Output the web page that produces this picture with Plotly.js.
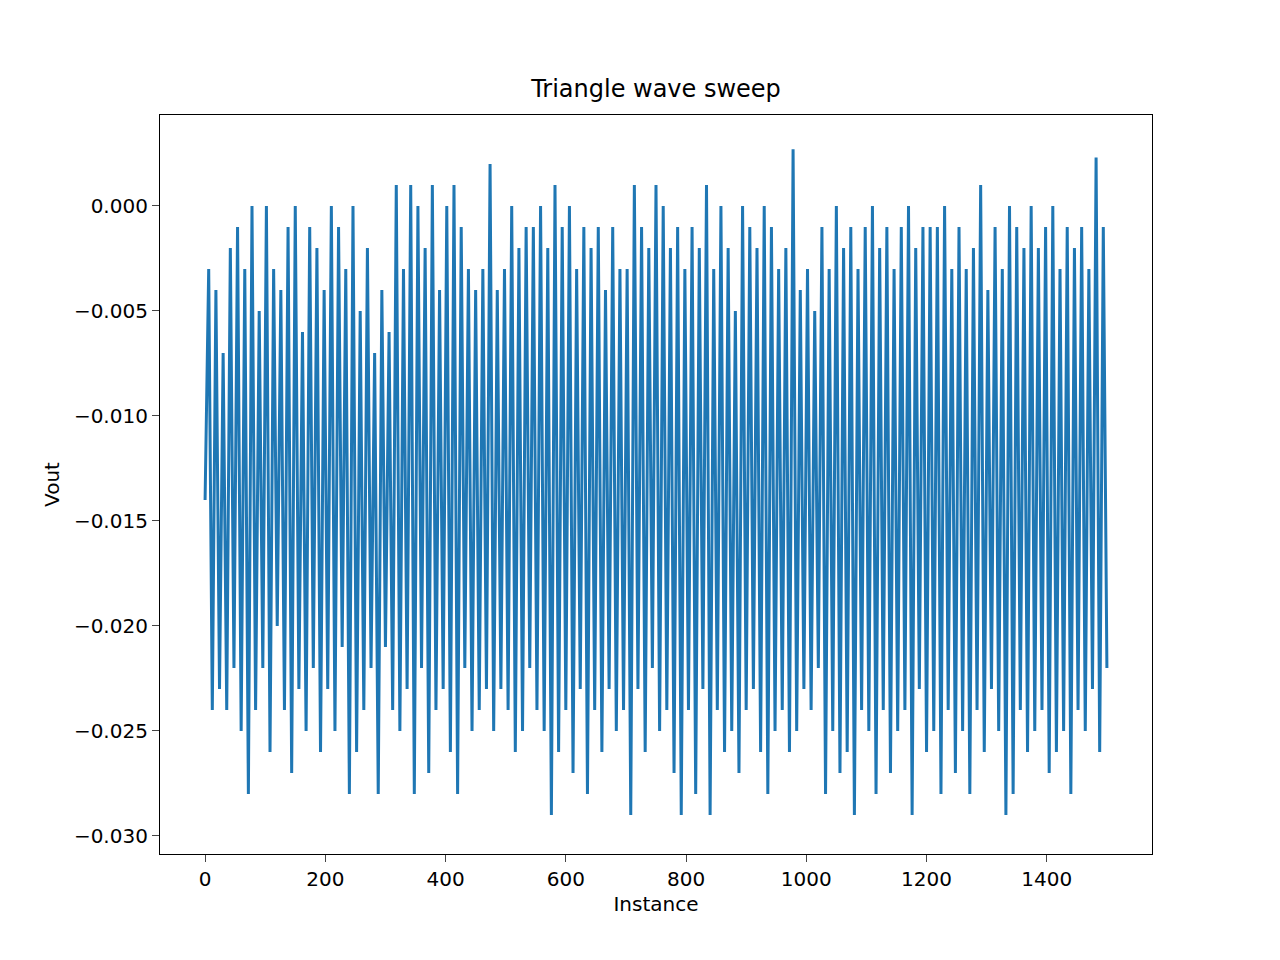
<!DOCTYPE html>
<html>
<head>
<script src="https://cdn.plot.ly/plotly-3.0.1.min.js"></script>
<style>body{margin:0;background:#fff}</style>
</head>
<body>
<div id="chart" style="width:1280px;height:960px"></div>
<script>
// sample spacing of the estimated points (instances)
const step = 6;

// Vout, in thousandths of a volt
const voutMilli = [
  -14,-3,-24,-4,-23,-7,-24,-2,-22,-1,
  -25,-3,-28,0,-24,-5,-22,0,-26,-3,
  -20,-4,-24,-1,-27,0,-23,-6,-25,-1,
  -22,-2,-26,-4,-23,0,-25,-1,-21,-3,
  -28,0,-26,-5,-24,-2,-22,-7,-28,-4,
  -21,-6,-24,1,-25,-3,-23,1,-28,0,
  -22,-2,-27,1,-24,-4,-23,0,-26,1,
  -28,-1,-22,-3,-25,-4,-24,-3,-23,2,
  -25,-4,-23,-3,-24,0,-26,-2,-25,-1,
  -22,-1,-24,0,-25,-2,-29,1,-26,-1,
  -24,0,-27,-3,-23,-1,-28,-2,-24,-1,
  -26,-4,-23,-1,-25,-3,-24,-3,-29,1,
  -23,-1,-26,-2,-22,1,-25,0,-24,-2,
  -27,-1,-29,-3,-24,-1,-28,-2,-23,1,
  -29,-3,-24,0,-26,-2,-25,-5,-27,0,
  -24,-1,-23,-2,-26,0,-28,-1,-25,-3,
  -24,-2,-26,2.7,-25,-4,-23,-3,-24,-5,
  -22,-1,-28,-3,-25,0,-27,-2,-26,-1,
  -29,-3,-24,-1,-25,0,-28,-2,-24,-1,
  -27,-3,-25,-1,-24,0,-29,-2,-23,-1,
  -26,-1,-25,-1,-28,0,-24,-3,-27,-1,
  -25,-3,-28,-2,-24,1,-26,-4,-23,-1,
  -25,-3,-29,0,-28,-1,-24,-2,-26,0,
  -25,-2,-24,-1,-27,0,-26,-3,-25,-1,
  -28,-2,-24,-1,-25,-3,-23,2.3,-26,-1,
  -22
];

const instance = voutMilli.map((v, i) => i * step);
const vout = voutMilli.map(v => v / 1000);

const font = {family: 'DejaVu Sans', size: 20, color: '#000'};

Plotly.newPlot('chart', [{
  x: instance, y: vout, type: 'scatter', mode: 'lines',
  line: {color: '#1f77b4', width: 3}
}], {
  width: 1280, height: 960,
  margin: {l: 160, r: 128, t: 115, b: 106},
  paper_bgcolor: '#fff', plot_bgcolor: '#fff',
  font: font,
  showlegend: false,
  title: {text: 'Triangle wave sweep', font: {family: 'DejaVu Sans', size: 24}, xref: 'paper', x: 0.5, xanchor: 'center', y: 0.908, yanchor: 'middle'},
  xaxis: {
    title: {text: 'Instance', font: {size: 20}, standoff: 6},
    range: [-75, 1575], tickvals: [0, 200, 400, 600, 800, 1000, 1200, 1400],
    ticks: 'outside', ticklen: 7, showgrid: false, zeroline: false,
    showline: true, mirror: true, linecolor: '#000', linewidth: 1.2
  },
  yaxis: {
    title: {text: 'Vout', font: {size: 20}, standoff: 8},
    range: [-0.03086, 0.00433],
    tickvals: [0, -0.005, -0.01, -0.015, -0.02, -0.025, -0.03],
    ticktext: ['0.000', '\u22120.005', '\u22120.010', '\u22120.015', '\u22120.020', '\u22120.025', '\u22120.030'],
    ticks: 'outside', ticklen: 7, showgrid: false, zeroline: false,
    showline: true, mirror: true, linecolor: '#000', linewidth: 1.2
  }
}, {displayModeBar: false});
</script>
</body>
</html>
